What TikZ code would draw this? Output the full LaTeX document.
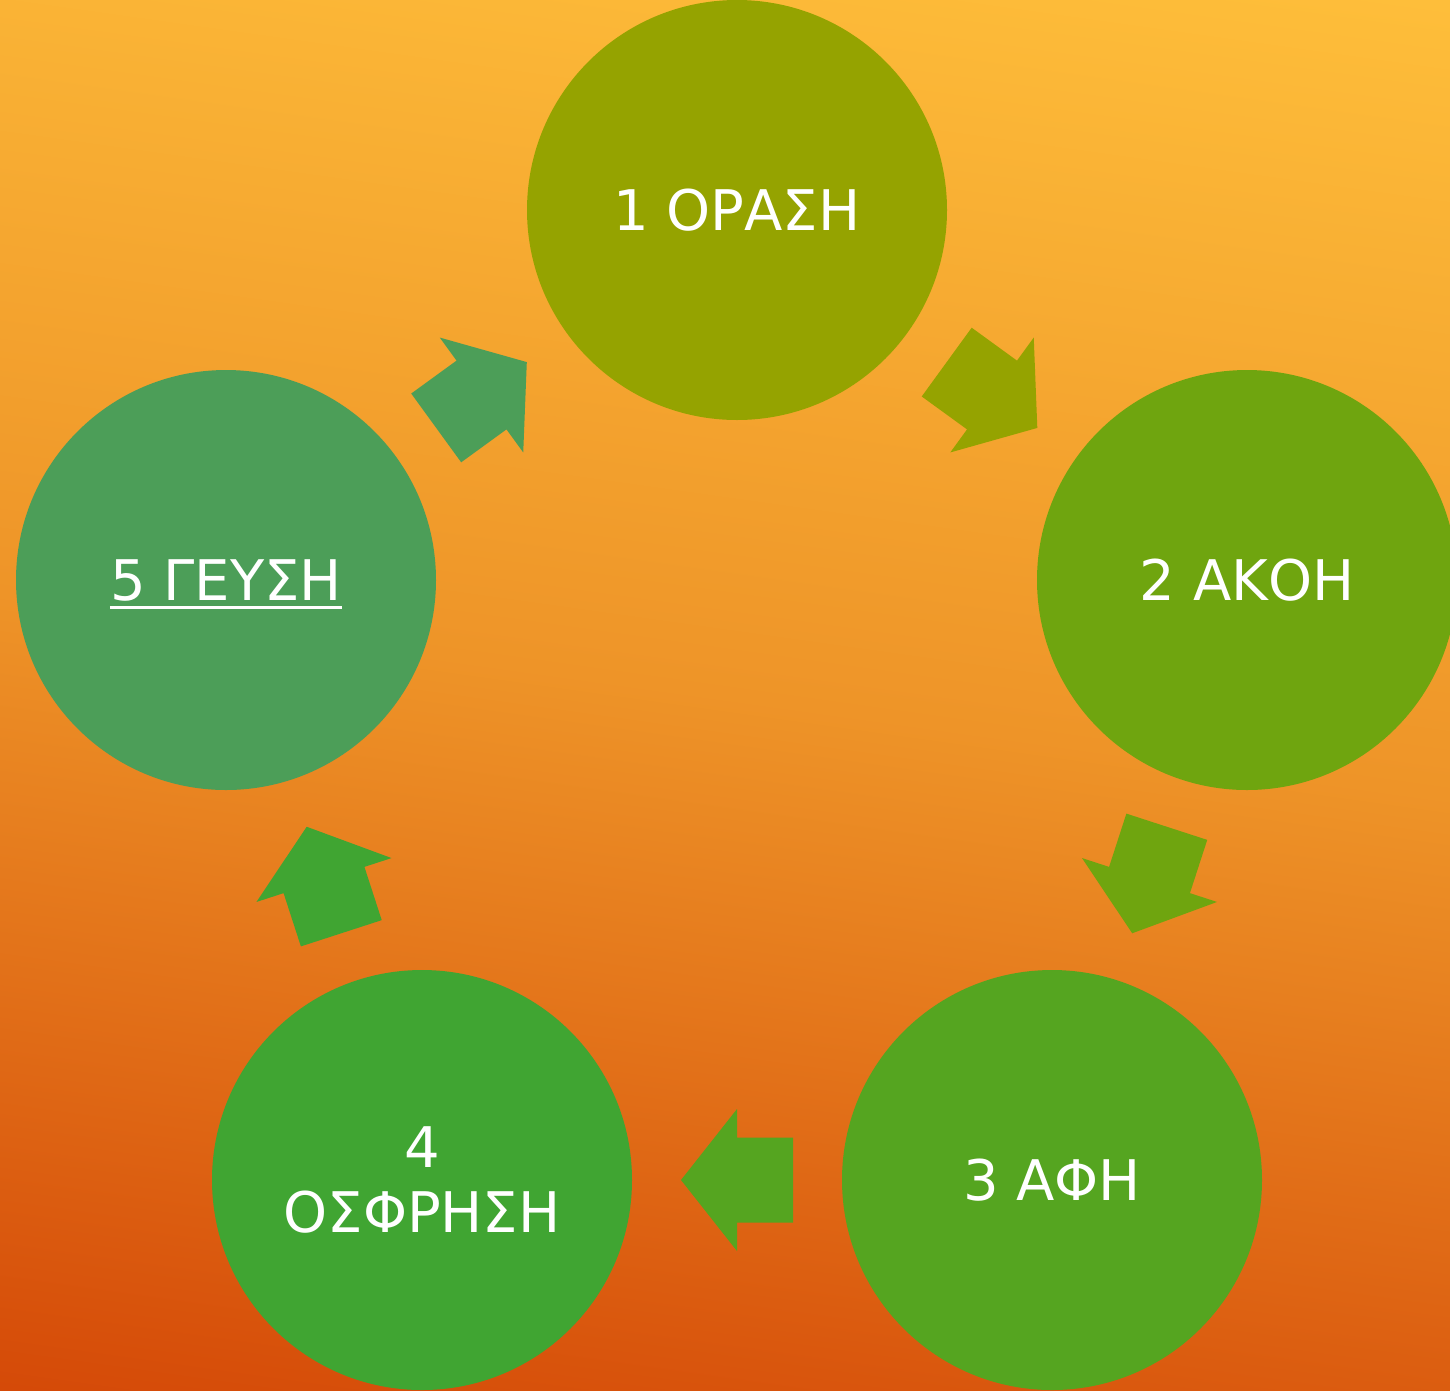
\documentclass[tikz,border=0pt]{standalone}
\usepackage{fontspec}
\setmainfont{DejaVu Sans}
\usetikzlibrary{calc}

\definecolor{bgtop}{HTML}{FEBE3A}
\definecolor{bgmid}{HTML}{EE9428}
\definecolor{bgbot}{HTML}{D54A08}
\definecolor{sense1}{HTML}{95A300}
\definecolor{sense2}{HTML}{6FA50F}
\definecolor{sense3}{HTML}{55A520}
\definecolor{sense4}{HTML}{40A532}
\definecolor{sense5}{HTML}{4C9E58}

% linear background gradient; the stops are placed so that the page corners
% land on the end colours when the shading is turned by 8 degrees
\pgfdeclareverticalshading{pagebg}{100bp}{
  color(0bp)=(bgbot); color(21.8bp)=(bgbot); color(50bp)=(bgmid);
  color(78.2bp)=(bgtop); color(100bp)=(bgtop)}

\tikzset{
  sense/.style={circle, minimum size=420pt, inner sep=0pt, text=white,
    font=\fontsize{56}{65}\selectfont, align=center},
  caption/.style={inner sep=0pt, text=white, font=\fontsize{56}{65}\selectfont},
  blockarrow/.pic={
    \fill (-56,42.5) -- (0,42.5) -- (0,71) -- (56,0) -- (0,-71)
          -- (0,-42.5) -- (-56,-42.5) -- cycle;
  }
}

\begin{document}
\begin{tikzpicture}[x=1pt, y=1pt]
  % page and background
  \useasboundingbox (0,0) rectangle (1450,-1390);
  \shade[shading=pagebg, shading angle=-8] (0,0) rectangle (1450,-1390);

  % the five senses
  \node[sense, fill=sense1] (c1) at (737,-210) {1 ΟΡΑΣΗ};
  \node[sense, fill=sense2] (c2) at (1247,-580) {2 ΑΚΟΗ};
  \node[sense, fill=sense3] (c3) at (1052,-1180) {3 ΑΦΗ};
  \node[sense, fill=sense4] (c4) at (422,-1180) {4\\ΟΣΦΡΗΣΗ};
  \node[sense, fill=sense5] (c5) at (226,-580) {};
  \node[caption] (t5) at (c5) {5 ΓΕΥΣΗ};
  \draw[white, line width=3pt] ([yshift=-7pt]t5.base west) -- ([yshift=-7pt]t5.base east);

  % block arrows between neighbouring circles
  \pic[fill=sense1, rotate=-36]  at ($(c1)!0.5!(c2)$) {blockarrow};
  \pic[fill=sense2, rotate=-108] at ($(c2)!0.5!(c3)$) {blockarrow};
  \pic[fill=sense3, rotate=180]  at ($(c3)!0.5!(c4)$) {blockarrow};
  \pic[fill=sense4, rotate=108]  at ($(c4)!0.5!(c5)$) {blockarrow};
  \pic[fill=sense5, rotate=36]   at ($(c5)!0.5!(c1)$) {blockarrow};
\end{tikzpicture}
\end{document}
